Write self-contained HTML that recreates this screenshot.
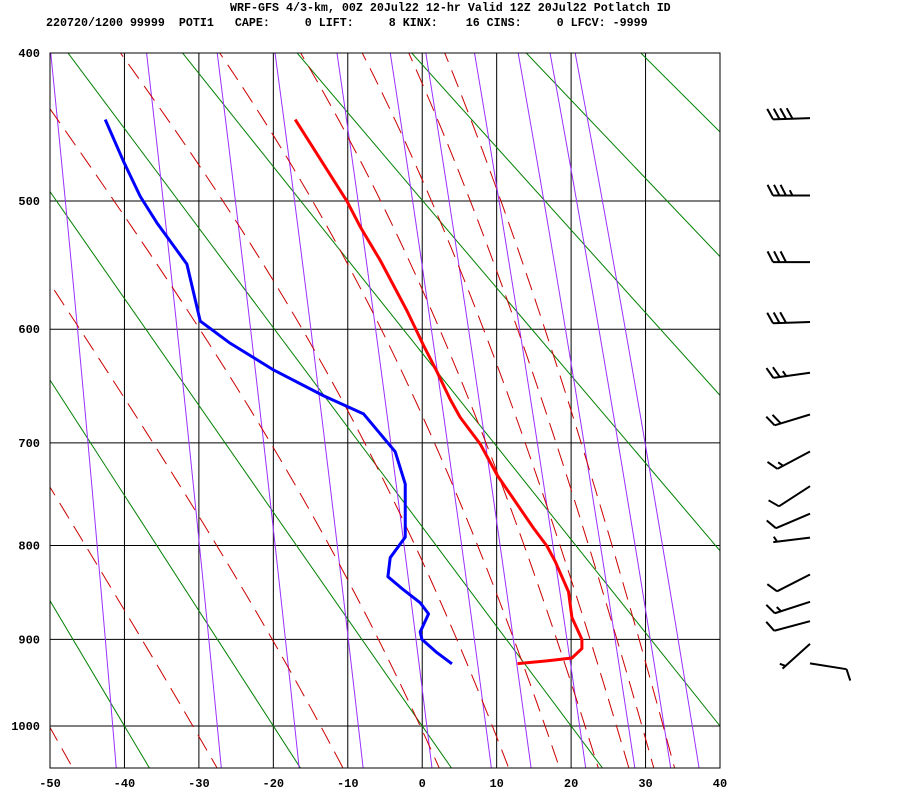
<!DOCTYPE html>
<html><head><meta charset="utf-8">
<style>
html,body{margin:0;padding:0;background:#fff;}
svg{display:block;}
text{font-family:"Liberation Mono",monospace;font-weight:bold;fill:#000;}
</style></head>
<body>
<svg id="chart" xmlns="http://www.w3.org/2000/svg" width="900" height="800" viewBox="0 0 900 800">
<text x="230" y="11" font-size="11.67">WRF-GFS 4/3-km, 00Z 20Jul22 12-hr Valid 12Z 20Jul22 Potlatch ID</text>
<text x="46" y="26" font-size="11.67" xml:space="preserve">220720/1200 99999  POTI1   CAPE:     0 LIFT:     8 KINX:    16 CINS:     0 LFCV: -9999</text>
<defs><clipPath id="plotclip"><rect x="50" y="53" width="670" height="715"/></clipPath></defs>
<g id="grid"></g>
<g id="bg" clip-path="url(#plotclip)"></g>
<g id="profiles" clip-path="url(#plotclip)"></g>
<g id="axes"></g>
<g id="barbs"></g>
</svg>
<script>
// ---- data ----
const tempTicks = [-50,-40,-30,-20,-10,0,10,20,30,40];
const presTicks = [400,500,600,700,800,900,1000];
const dryAdiabatsC = [-60,-40,-20,0,20,40,60,80,100,120];
const moistThetaEC = [-50,-30,-10,10,30,50,70,90,110,130];
const mixRatios = [0.1,0.4,1,2,4,7,10,16,24,32,40];
const tempP = [443,500,519,544.7,584.7,599,613.5,636,660.4,676.6,701,730,753.4,782.4,800.5,816.5,848.2,876,900,910.3,920.9,924.2,927.2];
const tempT = [-17.06,-10.12,-8.33,-5.64,-2.06,-0.94,0.17,1.97,3.76,5.10,7.79,10.03,12.26,14.95,16.75,17.87,19.65,20.11,21.45,21.45,20.11,16.75,12.80];
const dewP = [443,471.6,496.6,516.1,547.6,593.3,611.8,634.6,657.2,673.4,708.2,739,791.5,812.5,832.3,846.2,860,872,891.8,900,914.8,927.5];
const dewT = [-42.58,-40.13,-37.88,-35.64,-31.61,-29.82,-25.79,-19.97,-13.26,-7.89,-3.63,-2.28,-2.28,-4.30,-4.61,-2.51,-0.27,0.85,-0.27,-0.04,1.97,3.99];
const windP = [442,496,546,594,637,674,708,741,768,792,830,859,880,905,927];
const windDir = [268,270,270,268,262,253,242,237,247,263,243,252,255,228,99];
const windSpd = [40,35,30,30,25,20,15,10,10,5,10,15,10,5,10];

// ---- axes ----
const X0=50,X1=720,Y0=53,Y1=768, TMIN=-50,TMAX=40;
const K=0.286, PK0=Math.pow(400,K), PK1=Math.pow(1000,K);
function xT(t){return X0+(t-TMIN)/(TMAX-TMIN)*(X1-X0);}
function yP(p){return Y0+(Math.pow(p,K)-PK0)/(PK1-PK0)*(726-Y0);}
const NS="http://www.w3.org/2000/svg";
function mk(tag,attrs,parent){const e=document.createElementNS(NS,tag);for(const k in attrs)e.setAttribute(k,attrs[k]);parent.appendChild(e);return e;}
const grid=document.getElementById('grid'),bg=document.getElementById('bg'),prof=document.getElementById('profiles'),axes=document.getElementById('axes'),barbs=document.getElementById('barbs');

tempTicks.forEach(t=>{
  if(t>TMIN&&t<TMAX){const l=mk('line',{x1:xT(t),x2:xT(t),y1:Y0,y2:Y1,stroke:'#000','stroke-width':1},grid);
  
  }
  const tx=mk('text',{x:xT(t),y:787,'font-size':12,'text-anchor':'middle'},axes);tx.textContent=t;
  
  
});
presTicks.forEach(p=>{
  if(p>400){const l=mk('line',{x1:X0,x2:X1,y1:yP(p),y2:yP(p),stroke:'#000','stroke-width':1},grid);
  
  }
  const tx=mk('text',{x:40,y:yP(p)+4,'font-size':12,'text-anchor':'end'},axes);tx.textContent=p;
  
  
});
const frame=mk('rect',{x:X0,y:Y0,width:X1-X0,height:Y1-Y0,fill:'none',stroke:'#000','stroke-width':1},axes);



const pLevels=[];for(let p=380;p<=1060;p+=5)pLevels.push(p);
function esat(tc){return 6.112*Math.exp(17.67*tc/(tc+243.5));}
// dry adiabats
dryAdiabatsC.forEach(th=>{
  const pts=[380,1060].map(p=>[xT((th+273.15)*Math.pow(p/1000,K)-273.15),yP(p)]);
  const l=mk('polyline',{points:pts.map(a=>a.join(',')).join(' '),fill:'none',stroke:'#008000','stroke-width':1},bg);
  
  
});
// mixing ratio lines
mixRatios.forEach(w=>{
  const pts=pLevels.map(p=>{const e=w*p/(622+w);const L=Math.log(e/6.112);const tc=243.5*L/(17.67-L);return [xT(tc),yP(p)];});
  const l=mk('polyline',{points:pts.map(a=>a.join(',')).join(' '),fill:'none',stroke:'#9b30ff','stroke-width':1},bg);
  
  
});
// moist adiabats
function thetaE(tc,p){const T=tc+273.15;const e=esat(tc);const r=622*e/(p-e);
  return T*Math.pow(1000/p,0.2854*(1-0.00028*r))*Math.exp((3.376/T-0.00254)*r*(1+0.00081*r));}
moistThetaEC.forEach(te=>{
  const target=te+273.15;
  const pts=pLevels.map(p=>{let lo=-130,hi=60;for(let i=0;i<50;i++){const m=(lo+hi)/2;if(thetaE(m,p)<target)lo=m;else hi=m;}return [xT((lo+hi)/2),yP(p)];});
  const l=mk('polyline',{points:pts.map(a=>a.join(',')).join(' '),fill:'none',stroke:'#cc0000','stroke-width':1,'stroke-dasharray':'18 9'},bg);
  
  
});
// profiles
const tl=mk('polyline',{points:tempP.map((p,i)=>xT(tempT[i])+','+yP(p)).join(' '),fill:'none',stroke:'#ff0000','stroke-width':3,'stroke-linejoin':'round'},prof);


const dl=mk('polyline',{points:dewP.map((p,i)=>xT(dewT[i])+','+yP(p)).join(' '),fill:'none',stroke:'#0000ff','stroke-width':3,'stroke-linejoin':'round'},prof);


// wind barbs
const BX=810,STAFF=37,FULL=12,SP=6.5;
windP.forEach((p,i)=>{
  const y=yP(p),d=windDir[i]*Math.PI/180;
  const ux=Math.sin(d),uy=-Math.cos(d);
  const ang=Math.atan2(uy,ux)+63*Math.PI/180;
  const bx=Math.cos(ang),by=Math.sin(ang);
  const tipx=BX+ux*STAFF,tipy=y+uy*STAFF;
  let dd='M'+BX+','+y+' L'+tipx+','+tipy;
  let s=windSpd[i],pos=0;
  const fulls=Math.floor(s/10),half=(s%10)>=5;
  for(let k=0;k<fulls;k++){const ax=tipx-ux*pos,ay=tipy-uy*pos;dd+=' M'+ax+','+ay+' L'+(ax+bx*FULL)+','+(ay+by*FULL);pos+=SP;}
  if(half){if(fulls===0)pos=SP*0.6;const ax=tipx-ux*pos,ay=tipy-uy*pos;dd+=' M'+ax+','+ay+' L'+(ax+bx*FULL/2)+','+(ay+by*FULL/2);}
  const g=mk('path',{d:dd,fill:'none',stroke:'#000','stroke-width':2},barbs);
  
  
});
</script>
</body></html>
